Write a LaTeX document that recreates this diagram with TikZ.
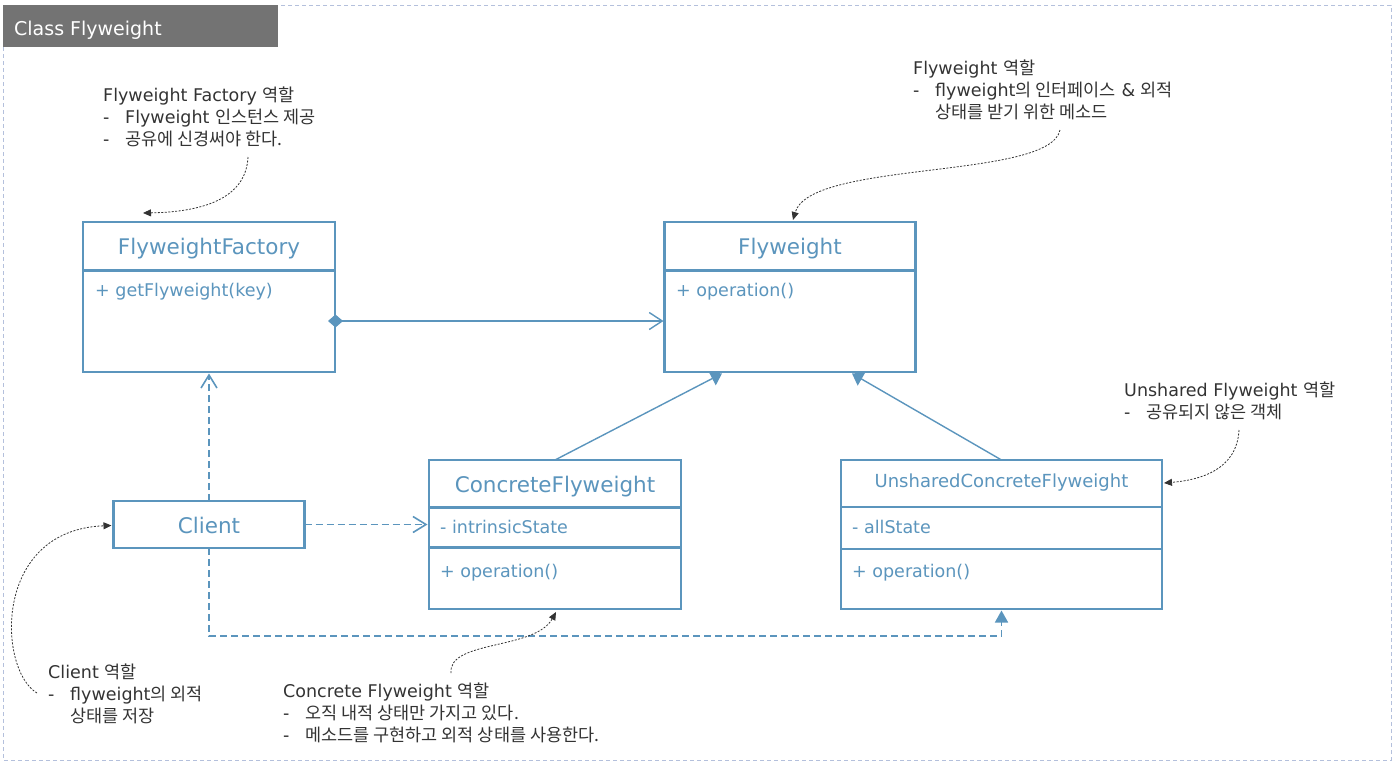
\documentclass[tikz,border=0pt]{standalone}
\usepackage{fontspec}
\setmainfont{DejaVu Sans}
\newfontfamily\kr{Noto Sans CJK KR}
\usetikzlibrary{arrows.meta,calc}
\definecolor{umlblue}{HTML}{5B95BD}
\definecolor{annot}{HTML}{333333}
\definecolor{framec}{HTML}{B4C0DC}
\definecolor{titlebg}{HTML}{737373}
\tikzset{
  umlbox/.style={draw=umlblue, line width=2.8pt, outer sep=0pt, inner sep=0pt, fill=white},
  cname/.style={text=umlblue, font=\fontsize{21.5}{24}\selectfont, anchor=base, inner sep=0pt},
  member/.style={text=umlblue, font=\fontsize{17.5}{20}\selectfont, anchor=base west, inner sep=0pt},
  divider/.style={draw=umlblue, line width=2.2pt},
  assoc/.style={draw=umlblue, line width=1.4pt, {Diamond[length=15pt,width=13pt]}-{Straight Barb[length=13pt,width=17pt]}},
  dep/.style={draw=umlblue, line width=1.6pt, dash pattern=on 7pt off 4pt},
  gen/.style={draw=umlblue, line width=1.4pt, -{Triangle[length=11pt,width=15pt]}},
  note/.style={text=annot, font=\fontsize{17.5}{22}\selectfont, align=left, anchor=north west, inner sep=0pt},
  noteline/.style={draw=annot, line width=0.8pt, dash pattern=on 2pt off 1.5pt, -{Triangle[length=8pt,width=7pt]}},
  frame/.style={draw=framec, line width=1pt, dash pattern=on 4pt off 3pt},
  titlebar/.style={fill=titlebg, anchor=north west, minimum width=275pt, minimum height=42pt, inner sep=0pt, outer sep=0pt},
  titletext/.style={text=white, font=\fontsize{19}{22}\selectfont, anchor=base west, inner sep=0pt}
}
\newcommand{\dash}{\makebox[22pt][l]{-}}
\begin{document}
\begin{tikzpicture}[x=1pt,y=-1pt]
\useasboundingbox (0,0) rectangle (1395,764);
\draw[frame] (3,5) rectangle (1391,760);
\node[titlebar] (tb) at (3,5) {};
\node[titletext] (tt) at (14,35) {Class Flyweight};

% class boxes
\node[umlbox, minimum width=252pt, minimum height=150pt] (ff) at (209,297) {};
\node[umlbox, minimum width=251pt, minimum height=150pt] (fw) at (790,297) {};
\node[umlbox, minimum width=252pt, minimum height=149pt] (cf) at (555,534.5) {};
\node[umlbox, minimum width=321pt, minimum height=149pt] (ucf) at (1001.5,534.5) {};
\node[umlbox, minimum width=191pt, minimum height=47pt] (cl) at (209,524.5) {};

\draw[divider] ($(ff.north west)+(0,48.5)$) -- ($(ff.north east)+(0,48.5)$);
\draw[divider] ($(fw.north west)+(0,48.5)$) -- ($(fw.north east)+(0,48.5)$);
\draw[divider] ($(cf.north west)+(0,47.5)$) -- ($(cf.north east)+(0,47.5)$);
\draw[divider] ($(cf.north west)+(0,87.5)$) -- ($(cf.north east)+(0,87.5)$);
\draw[divider] ($(ucf.north west)+(0,47)$) -- ($(ucf.north east)+(0,47)$);
\draw[divider] ($(ucf.north west)+(0,89)$) -- ($(ucf.north east)+(0,89)$);

% class texts
\node[cname] (ffn) at (209,254) {FlyweightFactory};
\node[member] (ffm) at (95,296) {+ getFlyweight(key)};
\node[cname] (fwn) at (790,254) {Flyweight};
\node[member] (fwm) at (676,296) {+ operation()};
\node[cname] (cfn) at (555,492) {ConcreteFlyweight};
\node[member] (cfa) at (440,533) {- intrinsicState};
\node[member] (cfm) at (440,577) {+ operation()};
\node[cname, font=\fontsize{18}{21}\selectfont] (ucfn) at (1001.5,487) {UnsharedConcreteFlyweight};
\node[member] (ucfa) at (852,533) {- allState};
\node[member] (ucfm) at (852,577) {+ operation()};
\node[cname] (cln) at (209,533) {Client};

% connectors
\draw[assoc] ($(ff.east)+(-7,24)$) -- ($(fw.west)+(-1,24)$);
\draw[gen] (cf.north) -- ($(fw.south)+(-68,1.5)$);
\draw[gen] (ucf.north) -- ($(fw.south)+(62,1.5)$);
\draw[dep, -{Straight Barb[length=13pt,width=16pt]}] (cl.north) -- ($(ff.south)+(0,1.5)$);
\draw[dep, -{Straight Barb[length=13pt,width=16pt]}] (cl.east) -- ($(cl.east -| cf.west)+(-1.5,0)$);
\draw[dep, -{Triangle[length=12pt,width=13pt]}] (cl.south) |- ($(ucf.south)+(0,27)$) -- ($(ucf.south)+(0,1.5)$);

% annotations
\node[note] (n1) at (103,87) {Flyweight Factory {\kr 역할}\\
\dash Flyweight {\kr 인스턴스 제공}\\
\dash{\kr 공유에 신경써야 한다.}};
\node[note] (n2) at (913,60) {Flyweight {\kr 역할}\\
\dash flyweight{\kr 의 인터페이스} \& {\kr 외적}\\
\hspace*{22pt}{\kr 상태를 받기 위한 메소드}};
\node[note] (n3) at (1124,382) {Unshared Flyweight {\kr 역할}\\
\dash{\kr 공유되지 않은 객체}};
\node[note] (n4) at (48,664) {Client {\kr 역할}\\
\dash flyweight{\kr 의 외적}\\
\hspace*{22pt}{\kr 상태를 저장}};
\node[note] (n5) at (283,683) {Concrete Flyweight {\kr 역할}\\
\dash{\kr 오직 내적 상태만 가지고 있다.}\\
\dash{\kr 메소드를 구현하고 외적 상태를 사용한다.}};

\coordinate (s1) at (248,157);
\coordinate (s2) at (1060,130);
\coordinate (s3) at (1239,430);
\coordinate (s4) at (37,693);
\coordinate (s5) at (451,673);
\draw[noteline] (s1) .. controls (246,200) and (200,212) .. ($(ff.north west)+(60,-9)$);
\draw[noteline] (s2) .. controls (1050,180) and (810,160) .. ($(fw.north)+(3,-2)$);
\draw[noteline] (s3) .. controls (1237,470) and (1200,480) .. ($(ucf.north east)+(2,23)$);
\draw[noteline] (s4) .. controls (-2,670) and (-8,530) .. ($(cl.west)+(-2,1)$);
\draw[noteline] (s5) .. controls (448,640) and (535,650) .. ($(cf.south)+(1,3)$);
\end{tikzpicture}
\end{document}
